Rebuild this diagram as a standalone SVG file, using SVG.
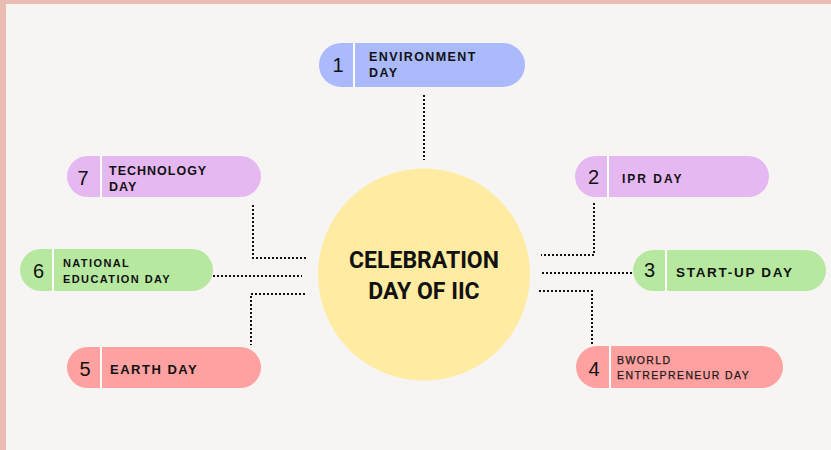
<svg xmlns="http://www.w3.org/2000/svg" width="831" height="450" viewBox="0 0 831 450">
<style>
.num{font-family:"Liberation Sans",Arial,sans-serif;font-size:20px;fill:#111;text-anchor:middle}
.lb{font-family:"Liberation Sans",Arial,sans-serif;font-weight:bold;fill:#111}
.lr{font-family:"Liberation Sans",Arial,sans-serif;fill:#1a1a1a;stroke:#1a1a1a;stroke-width:0.25}
.div{stroke:#ffffff;stroke-width:2}
.con{fill:none;stroke:#111;stroke-width:2;stroke-dasharray:2 2}
.blue{fill:#abbafc}.purple{fill:#e5b8f2}.green{fill:#b6e8a0}.red{fill:#ffa1a0}
</style>
<rect x="0" y="0" width="831" height="450" fill="#f7f5f3"/>
<rect x="0" y="0" width="831" height="4" fill="#ebbcb3"/>
<rect x="0" y="0" width="6" height="450" fill="#ebbcb3"/>
<g id="connectors">
<path class="con" d="M424 95V160"/>
<path class="con" d="M253 205V258H306"/>
<path class="con" d="M213 276H302"/>
<path class="con" d="M305 294H251V345"/>
<path class="con" d="M594 203V255H541"/>
<path class="con" d="M542 273H632"/>
<path class="con" d="M539 291H592V345"/>
</g>
<g id="center">
<circle cx="424" cy="274.5" r="106" fill="#ffeba2"/>
<text x="424" y="268" font-family="Roboto,'Liberation Sans',sans-serif" font-weight="bold" font-size="23" text-anchor="middle" fill="#111">CELEBRATION</text>
<text x="424" y="299" font-family="Roboto,'Liberation Sans',sans-serif" font-weight="bold" font-size="23" text-anchor="middle" fill="#111">DAY OF IIC</text>
</g>
<g id="node1">
<rect class="blue" x="319" y="43" width="206" height="44" rx="22"/>
<line class="div" x1="354" y1="43" x2="354" y2="87"/>
<text class="num" x="338" y="72" font-size="19">1</text>
<text class="lb" x="369" y="61" font-size="12.5" letter-spacing="1.4">ENVIRONMENT</text>
<text class="lb" x="369" y="77" font-size="12.5" letter-spacing="1.4">DAY</text>
</g>
<g id="node2">
<rect class="purple" x="575" y="156" width="194" height="41" rx="20.5"/>
<line class="div" x1="608" y1="156" x2="608" y2="197"/>
<text class="num" x="593.5" y="184" font-size="19">2</text>
<text class="lb" x="622" y="183" font-size="12" letter-spacing="2">IPR DAY</text>
</g>
<g id="node3">
<rect class="green" x="633" y="250" width="193" height="41" rx="20.5"/>
<line class="div" x1="666" y1="250" x2="666" y2="291"/>
<text class="num" x="649.5" y="277" font-size="22">3</text>
<text class="lb" x="676" y="277" font-size="13.5" letter-spacing="1.7">START-UP DAY</text>
</g>
<g id="node4">
<rect class="red" x="576" y="346" width="207" height="42" rx="21"/>
<line class="div" x1="610" y1="346" x2="610" y2="388"/>
<text class="num" x="594" y="376" font-size="22">4</text>
<text class="lr" x="617" y="364" font-size="10.5" letter-spacing="1.4">BWORLD</text>
<text class="lr" x="617" y="379" font-size="10.5" letter-spacing="1.4">ENTREPRENEUR DAY</text>
</g>
<g id="node5">
<rect class="red" x="67" y="347" width="194" height="41" rx="20.5"/>
<line class="div" x1="101" y1="347" x2="101" y2="388"/>
<text class="num" x="85" y="376" font-size="22">5</text>
<text class="lb" x="110" y="374" font-size="13" letter-spacing="1.5">EARTH DAY</text>
</g>
<g id="node6">
<rect class="green" x="20" y="249" width="193" height="42" rx="21"/>
<line class="div" x1="53" y1="249" x2="53" y2="291"/>
<text class="num" x="38.5" y="278" font-size="19">6</text>
<text class="lb" x="63" y="267" font-size="11" letter-spacing="1.4">NATIONAL</text>
<text class="lb" x="63" y="283" font-size="11" letter-spacing="1.4">EDUCATION DAY</text>
</g>
<g id="node7">
<rect class="purple" x="67" y="156" width="194" height="41" rx="20.5"/>
<line class="div" x1="101" y1="156" x2="101" y2="197"/>
<text class="num" x="83" y="185" font-size="22">7</text>
<text class="lb" x="109" y="175" font-size="12.5" letter-spacing="1">TECHNOLOGY</text>
<text class="lb" x="109" y="191" font-size="12.5" letter-spacing="1">DAY</text>
</g>
</svg>
